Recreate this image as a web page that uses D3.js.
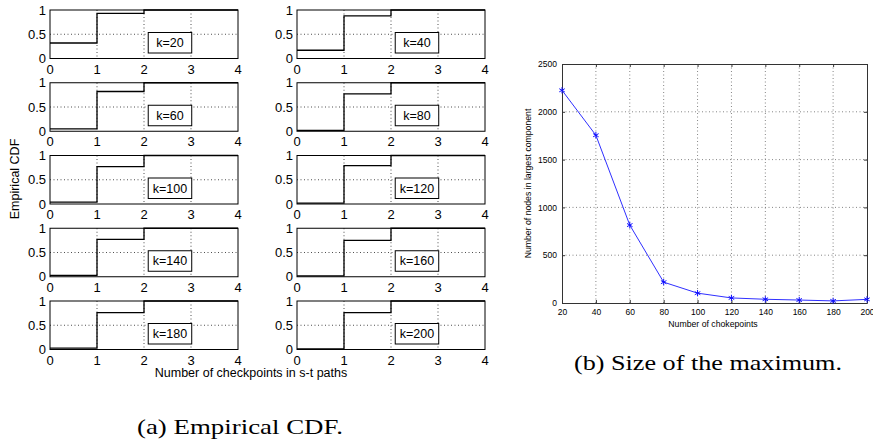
<!DOCTYPE html>
<html>
<head>
<meta charset="utf-8">
<script src="https://cdn.jsdelivr.net/npm/d3@7"></script>
<style>
  body { margin: 0; background: #fff; }
  text { font-family: "Liberation Sans", Arial, sans-serif; fill: #000; }
</style>
</head>
<body>
<div id="chart"></div>
<script>
// (a) empirical CDF panels, one per k
const kValues = [20, 40, 60, 80, 100, 120, 140, 160, 180, 200];
const cdfAtZero = [0.32, 0.17, 0.05, 0.02, 0.04, 0.02, 0.03, 0.02, 0.03, 0.01];
const cdfAtOne = [0.93, 0.88, 0.82, 0.77, 0.77, 0.79, 0.77, 0.75, 0.76, 0.76];
const cdfXTicks = [0, 1, 2, 3, 4];
const cdfYTicks = [0, 0.5, 1];
const cdfYLabels = ["0", "0.5", "1"];

// (b) size of the largest component
const chokepoints = [20, 40, 60, 80, 100, 120, 140, 160, 180, 200];
const largestComponent = [2225, 1755, 815, 218, 103, 53, 39, 31, 22, 38];
const sizeXTicks = [20, 40, 60, 80, 100, 120, 140, 160, 180, 200];
const sizeYTicks = [0, 500, 1000, 1500, 2000, 2500];

const W = 873, H = 443;
const svg = d3.select("#chart").append("svg")
    .attr("width", W)
    .attr("height", H);

// ---- panel grid for (a)
const colLeft = [50, 297];
const panelW = 188, panelH = 48.5;
const rowTop = r => 10 + r * 72.75;

kValues.forEach((k, i) => {
    let col = i % 2, row = Math.floor(i / 2);
    let g = svg.append("g")
        .attr("transform", "translate(" + colLeft[col] + "," + rowTop(row) + ")");

    let x = d3.scaleLinear().domain([0, 4]).range([0, panelW]);
    let y = d3.scaleLinear().domain([0, 1]).range([panelH, 0]);

    // dotted grid
    g.selectAll(".vg").data(cdfXTicks.slice(1, -1)).enter().append("line")
        .attr("x1", d => x(d)).attr("x2", d => x(d))
        .attr("y1", 0).attr("y2", panelH)
        .attr("stroke", "#222").attr("stroke-width", 0.8)
        .attr("stroke-dasharray", "1,2.5");
    g.append("line")
        .attr("x1", 0).attr("x2", panelW)
        .attr("y1", y(0.5)).attr("y2", y(0.5))
        .attr("stroke", "#222").attr("stroke-width", 0.8)
        .attr("stroke-dasharray", "1,2.5");

    // staircase
    let pts = [[0, cdfAtZero[i]], [1, cdfAtOne[i]], [2, 1], [4, 1]];
    g.append("path")
        .datum(pts)
        .attr("fill", "none")
        .attr("stroke", "#000")
        .attr("stroke-width", 1.3)
        .attr("d", d3.line().x(d => x(d[0])).y(d => y(d[1])).curve(d3.curveStepAfter));

    // box
    g.append("rect")
        .attr("width", panelW).attr("height", panelH)
        .attr("fill", "none").attr("stroke", "#000").attr("stroke-width", 1);

    // tick labels
    g.selectAll(".xl").data(cdfXTicks).enter().append("text")
        .attr("x", d => x(d)).attr("y", panelH + 15)
        .attr("text-anchor", "middle")
        .style("font-size", "13px")
        .text(d => d);
    g.selectAll(".yl").data(cdfYTicks).enter().append("text")
        .attr("x", -4).attr("y", d => y(d) + 4.5)
        .attr("text-anchor", "end")
        .style("font-size", "13px")
        .text((d, j) => cdfYLabels[j]);

    // legend box
    let lx = x(2.09), ly = panelH - 26;
    g.append("rect")
        .attr("x", lx).attr("y", ly)
        .attr("width", 43.5).attr("height", 20.5)
        .attr("fill", "#fff").attr("stroke", "#000").attr("stroke-width", 1);
    g.append("text")
        .attr("x", lx + 21.75).attr("y", ly + 14.5)
        .attr("text-anchor", "middle")
        .style("font-size", "12.5px")
        .text("k=" + k);
});

svg.append("text")
    .attr("transform", "translate(19,179) rotate(-90)")
    .attr("text-anchor", "middle")
    .style("font-size", "12.5px")
    .text("Empirical CDF");

svg.append("text")
    .attr("x", 251).attr("y", 377)
    .attr("text-anchor", "middle")
    .style("font-size", "12.5px")
    .text("Number of checkpoints in s-t paths");

// ---- (b) line chart
const m = {left: 562, top: 64, right: 867, bottom: 303};
const bx = d3.scaleLinear().domain([20, 200]).range([m.left, m.right]);
const by = d3.scaleLinear().domain([0, 2500]).range([m.bottom, m.top]);

const gb = svg.append("g");

gb.selectAll(".bvg").data(sizeXTicks.slice(1, -1)).enter().append("line")
    .attr("x1", d => bx(d)).attr("x2", d => bx(d))
    .attr("y1", m.top).attr("y2", m.bottom)
    .attr("stroke", "#666").attr("stroke-width", 0.8)
    .attr("stroke-dasharray", "1,2.5");
gb.selectAll(".bhg").data(sizeYTicks.slice(1, -1)).enter().append("line")
    .attr("x1", m.left).attr("x2", m.right)
    .attr("y1", d => by(d)).attr("y2", d => by(d))
    .attr("stroke", "#666").attr("stroke-width", 0.8)
    .attr("stroke-dasharray", "1,2.5");

// axes with inward ticks
gb.append("g").attr("transform", "translate(0," + m.bottom + ")")
    .call(d3.axisBottom(bx).tickValues(sizeXTicks).tickFormat(d3.format("d"))
        .tickSizeInner(-3).tickSizeOuter(0).tickPadding(6));
gb.append("g").attr("transform", "translate(" + m.left + ",0)")
    .call(d3.axisLeft(by).tickValues(sizeYTicks).tickFormat(d3.format("d"))
        .tickSizeInner(-3).tickSizeOuter(0).tickPadding(5));
gb.append("g").attr("transform", "translate(0," + m.top + ")")
    .call(d3.axisTop(bx).tickValues(sizeXTicks).tickSizeInner(-3).tickSizeOuter(0).tickFormat(""));
gb.append("g").attr("transform", "translate(" + m.right + ",0)")
    .call(d3.axisRight(by).tickValues(sizeYTicks).tickSizeInner(-3).tickSizeOuter(0).tickFormat(""));

gb.selectAll(".domain, .tick line").attr("stroke", "#333");
gb.selectAll(".tick text")
    .style("font-family", "'Liberation Sans', Arial, sans-serif")
    .style("font-size", "8.5px")
    .attr("fill", "#222");

gb.append("path")
    .datum(chokepoints.map((c, i) => [c, largestComponent[i]]))
    .attr("fill", "none")
    .attr("stroke", "#3030ff")
    .attr("stroke-width", 1)
    .attr("d", d3.line().x(d => bx(d[0])).y(d => by(d[1])));

gb.selectAll(".mk").data(chokepoints).enter().append("path")
    .attr("transform", (d, i) => "translate(" + bx(d) + "," + by(largestComponent[i]) + ")")
    .attr("d", d3.symbol(d3.symbolAsterisk, 28))
    .attr("fill", "none")
    .attr("stroke", "#1010ff")
    .attr("stroke-width", 1);

svg.append("text")
    .attr("transform", "translate(531," + ((m.top + m.bottom) / 2) + ") rotate(-90)")
    .attr("text-anchor", "middle")
    .style("font-size", "8.7px")
    .attr("fill", "#222")
    .text("Number of nodes in largest component");

svg.append("text")
    .attr("x", 713).attr("y", 327)
    .attr("text-anchor", "middle")
    .style("font-size", "8.7px")
    .attr("fill", "#222")
    .text("Number of chokepoints");

// captions
svg.append("text")
    .attr("x", 137).attr("y", 434)
    .attr("textLength", 206).attr("lengthAdjust", "spacingAndGlyphs")
    .style("font-family", "'Liberation Serif', 'Times New Roman', serif")
    .style("font-size", "22px")
    .text("(a) Empirical CDF.");

svg.append("text")
    .attr("x", 574).attr("y", 370)
    .attr("textLength", 268).attr("lengthAdjust", "spacingAndGlyphs")
    .style("font-family", "'Liberation Serif', 'Times New Roman', serif")
    .style("font-size", "22px")
    .text("(b) Size of the maximum.");
</script>
</body>
</html>
